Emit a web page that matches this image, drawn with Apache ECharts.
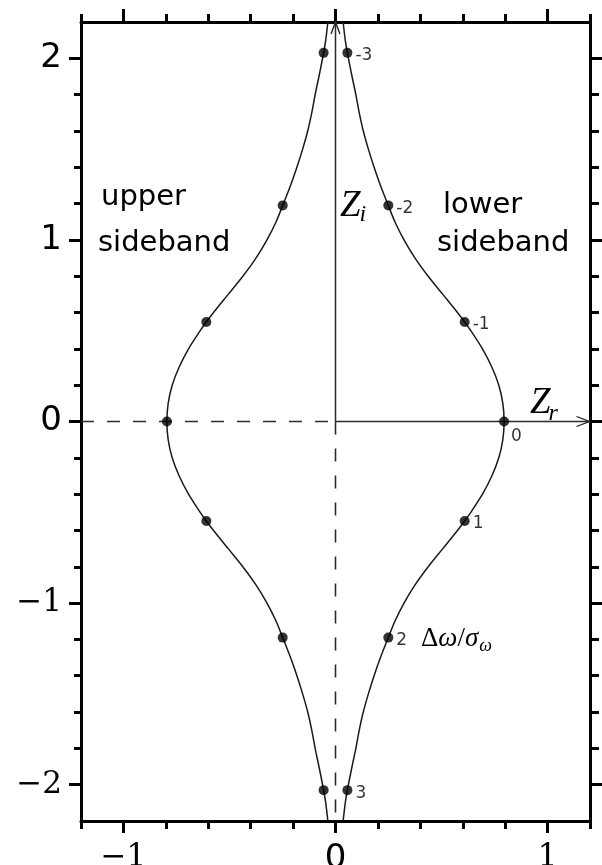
<!DOCTYPE html>
<html>
<head>
<meta charset="utf-8">
<script src="https://cdn.jsdelivr.net/npm/echarts@6/dist/echarts.min.js"></script>
<style>
  html, body { margin: 0; padding: 0; background: #fff; }
  #chart { width: 602px; height: 865px; }
</style>
</head>
<body>
<div id="chart"></div>
<script>
// Normalised detuning Δω/σω of the marked points
const detuning = [-3, -2, -1, 0, 1, 2, 3];

// Marked points, lower sideband (Zr, Zi)
const lowerDotZr = [0.056, 0.249, 0.609, 0.795, 0.609, 0.249, 0.056];
const lowerDotZi = [2.030, 1.190, 0.548, 0.000, -0.548, -1.190, -2.030];

// Marked points, upper sideband (Zr, Zi)
const upperDotZr = [-0.056, -0.249, -0.609, -0.795, -0.609, -0.249, -0.056];
const upperDotZi = [2.030, 1.190, 0.548, 0.000, -0.548, -1.190, -2.030];

// Impedance curve, lower sideband (top to bottom)
const lowerCurveZr = [0.036, 0.046, 0.056, 0.078, 0.096, 0.112, 0.131, 0.155, 0.182, 0.212,
                      0.249, 0.280, 0.323, 0.375, 0.437, 0.506, 0.575, 0.609, 0.638, 0.693,
                      0.737, 0.770, 0.789, 0.795, 0.789, 0.770, 0.737, 0.693, 0.638, 0.609,
                      0.575, 0.506, 0.437, 0.375, 0.323, 0.280, 0.249, 0.212, 0.182, 0.155,
                      0.131, 0.112, 0.096, 0.078, 0.056, 0.046, 0.036];
const lowerCurveZi = [2.20, 2.10, 2.03, 1.90, 1.80, 1.70, 1.60, 1.50, 1.40, 1.30,
                      1.19, 1.10, 1.00, 0.90, 0.80, 0.70, 0.60, 0.548, 0.50, 0.40,
                      0.30, 0.20, 0.10, 0.00, -0.10, -0.20, -0.30, -0.40, -0.50, -0.548,
                      -0.60, -0.70, -0.80, -0.90, -1.00, -1.10, -1.19, -1.30, -1.40, -1.50,
                      -1.60, -1.70, -1.80, -1.90, -2.03, -2.10, -2.20];

// Impedance curve, upper sideband (top to bottom)
const upperCurveZr = [-0.036, -0.046, -0.056, -0.078, -0.096, -0.112, -0.131, -0.155, -0.182, -0.212,
                      -0.249, -0.280, -0.323, -0.375, -0.437, -0.506, -0.575, -0.609, -0.638, -0.693,
                      -0.737, -0.770, -0.789, -0.795, -0.789, -0.770, -0.737, -0.693, -0.638, -0.609,
                      -0.575, -0.506, -0.437, -0.375, -0.323, -0.280, -0.249, -0.212, -0.182, -0.155,
                      -0.131, -0.112, -0.096, -0.078, -0.056, -0.046, -0.036];
const upperCurveZi = [2.20, 2.10, 2.03, 1.90, 1.80, 1.70, 1.60, 1.50, 1.40, 1.30,
                      1.19, 1.10, 1.00, 0.90, 0.80, 0.70, 0.60, 0.548, 0.50, 0.40,
                      0.30, 0.20, 0.10, 0.00, -0.10, -0.20, -0.30, -0.40, -0.50, -0.548,
                      -0.60, -0.70, -0.80, -0.90, -1.00, -1.10, -1.19, -1.30, -1.40, -1.50,
                      -1.60, -1.70, -1.80, -1.90, -2.03, -2.10, -2.20];

// Tick positions
const xMajorTicks = [-1, 0, 1];
const xMinorTicks = [-1.2, -0.8, -0.6, -0.4, -0.2, 0.2, 0.4, 0.6, 0.8, 1.2];
const yMajorTicks = [-2, -1, 0, 1, 2];
const yMinorTicks = [-1.8, -1.6, -1.4, -1.2, -0.8, -0.6, -0.4, -0.2,
                     0.2, 0.4, 0.6, 0.8, 1.2, 1.4, 1.6, 1.8];

const X_MIN = -1.2, X_MAX = 1.2, Y_MIN = -2.2, Y_MAX = 2.2;

const zip = (a, b) => a.map((v, i) => [v, b[i]]);
const minus = v => (v < 0 ? '\u2212' + Math.abs(v) : String(v));

const labelRich = {
  s: { fontFamily: 'DejaVu Sans', fontSize: 34, color: '#000' },
  m: { fontFamily: 'DejaVu Serif', fontSize: 31, color: '#000' }
};
const xLabel = v => (v === 0 ? '{s|0}' : '{m|' + minus(v) + '}');
const yLabel = v => (v >= 0 ? '{s|' + v + '}' : '{m|' + minus(v) + '}');

const tickStyle = { color: '#000', width: 3 };

function axis(dim, position, ticks, len, showLine, labelFn) {
  const a = {
    type: 'value',
    position: position,
    min: dim === 'x' ? X_MIN : Y_MIN,
    max: dim === 'x' ? X_MAX : Y_MAX,
    axisLine: { show: showLine, onZero: false, lineStyle: { color: '#000', width: 3 } },
    axisTick: { show: true, inside: false, customValues: ticks, length: len, lineStyle: tickStyle },
    axisLabel: { show: false },
    splitLine: { show: false }
  };
  if (labelFn) {
    a.axisLabel = {
      show: true, customValues: ticks, formatter: labelFn, rich: labelRich,
      margin: dim === 'x' ? 21 : 19
    };
  }
  return a;
}

// width of a text run, used to place subscripts right after their base
const measureCtx = document.createElement('canvas').getContext('2d');
function textWidth(font, s) {
  measureCtx.font = font;
  return measureCtx.measureText(s).width;
}

const chart = echarts.init(document.getElementById('chart'), null, { renderer: 'canvas' });

const lineColor = '#2a2a2a';
const openArrowRight = 'path://M0,0L10,5L0,10';
const openArrowUp = 'path://M0,10L5,0L10,10';
const arrowStyle = { color: 'rgba(0,0,0,0)', borderColor: lineColor, borderWidth: 1.5 };

const lowerDots = lowerDotZr.map((x, i) => {
  const item = { value: [x, lowerDotZi[i]], name: String(detuning[i]) };
  if (detuning[i] === 0) item.label = { offset: [-1, 15] };
  return item;
});

// Δω/σ_ω annotation pieces
const fUp = '27px "Liberation Serif"';
const fIt = 'italic 27px "Liberation Serif"';
const dwX = 421;
const dwWidth = textWidth(fUp, 'Δ') + textWidth(fIt, 'ω') + textWidth(fUp, '/') + textWidth(fIt, 'σ');

const zFont = 'italic 37px "Liberation Serif"';
const zW = textWidth(zFont, 'Z');

chart.setOption({
  animation: false,
  backgroundColor: '#fff',
  grid: { left: 81, right: 12, top: 22, bottom: 44, containLabel: false, outerBoundsMode: 'none' },
  xAxis: [
    axis('x', 'bottom', xMajorTicks, 12, true, xLabel),
    axis('x', 'bottom', xMinorTicks, 8, false),
    axis('x', 'top', xMajorTicks, 13, true),
    axis('x', 'top', xMinorTicks, 8, false)
  ],
  yAxis: [
    axis('y', 'left', yMajorTicks, 12, true, yLabel),
    axis('y', 'left', yMinorTicks, 7, false),
    axis('y', 'right', yMajorTicks, 12, true),
    axis('y', 'right', yMinorTicks, 9, false)
  ],
  series: [
    // Zr axis: dashed on the negative side, arrow on the positive side
    {
      type: 'line', data: [[X_MIN, 0], [0, 0]], symbol: 'none', silent: true,
      lineStyle: { color: lineColor, width: 1.5, type: [13, 13] }, z: 1
    },
    {
      type: 'line', silent: true, z: 1,
      data: [{ value: [0, 0], symbol: 'none' },
             { value: [X_MAX, 0], symbol: openArrowRight, symbolSize: [13, 10], symbolOffset: [-7, 0] }],
      showSymbol: true, itemStyle: arrowStyle,
      lineStyle: { color: lineColor, width: 1.5 }
    },
    // Zi axis: dashed below, arrow at the top
    {
      type: 'line', data: [[0, 0], [0, Y_MIN]], symbol: 'none', silent: true,
      lineStyle: { color: lineColor, width: 1.6, type: [13, 14] }, z: 1
    },
    {
      type: 'line', silent: true, z: 1,
      data: [{ value: [0, 0], symbol: 'none' },
             { value: [0, Y_MAX], symbol: openArrowUp, symbolSize: [9, 12], symbolOffset: [0, 6] }],
      showSymbol: true, itemStyle: arrowStyle,
      lineStyle: { color: lineColor, width: 1.5 }
    },
    // Curves
    {
      type: 'line', name: 'lower sideband', data: zip(lowerCurveZr, lowerCurveZi),
      showSymbol: false, smooth: 0.3, silent: true,
      lineStyle: { color: '#1a1a1a', width: 1.5 }, z: 2
    },
    {
      type: 'line', name: 'upper sideband', data: zip(upperCurveZr, upperCurveZi),
      showSymbol: false, smooth: 0.3, silent: true,
      lineStyle: { color: '#1a1a1a', width: 1.5 }, z: 2
    },
    // Marked detuning points
    {
      type: 'scatter', data: lowerDots, symbolSize: 10, itemStyle: { color: '#000' }, z: 3,
      label: {
        show: true, position: 'right', distance: 3, offset: [0, 3],
        formatter: p => p.name,
        fontFamily: 'DejaVu Sans', fontSize: 17, color: '#000'
      }
    },
    {
      type: 'scatter', data: zip(upperDotZr, upperDotZi), symbolSize: 10,
      itemStyle: { color: '#000' }, z: 3
    }
  ],
  graphic: [
    { type: 'text', x: 101, y: 197, style: { text: 'upper', font: '29px "DejaVu Sans"', fill: '#000', align: 'left', verticalAlign: 'middle' } },
    { type: 'text', x: 98, y: 243, style: { text: 'sideband', font: '29px "DejaVu Sans"', fill: '#000', align: 'left', verticalAlign: 'middle' } },
    { type: 'text', x: 443, y: 205, style: { text: 'lower', font: '29px "DejaVu Sans"', fill: '#000', align: 'left', verticalAlign: 'middle' } },
    { type: 'text', x: 437, y: 243, style: { text: 'sideband', font: '29px "DejaVu Sans"', fill: '#000', align: 'left', verticalAlign: 'middle' } },
    // Z_i
    { type: 'text', x: 340, y: 206, style: { text: 'Z', font: zFont, fill: '#000', align: 'left', verticalAlign: 'middle' } },
    { type: 'text', x: 340 + zW - 1, y: 215, style: { text: 'i', font: 'italic 24px "Liberation Serif"', fill: '#000', align: 'left', verticalAlign: 'middle' } },
    // Z_r
    { type: 'text', x: 530, y: 403, style: { text: 'Z', font: zFont, fill: '#000', align: 'left', verticalAlign: 'middle' } },
    { type: 'text', x: 530 + zW - 2, y: 414, style: { text: 'r', font: 'italic 24px "Liberation Serif"', fill: '#000', align: 'left', verticalAlign: 'middle' } },
    // Δω/σ_ω
    {
      type: 'text', x: dwX, y: 639,
      style: {
        text: '{u|Δ}{i|ω}{u|/}{i|σ}', align: 'left', verticalAlign: 'middle', fill: '#000',
        rich: {
          u: { fontFamily: 'Liberation Serif', fontSize: 27, fill: '#000' },
          i: { fontFamily: 'Liberation Serif', fontSize: 27, fontStyle: 'italic', fill: '#000' }
        }
      }
    },
    { type: 'text', x: dwX + dwWidth + 1, y: 646, style: { text: 'ω', font: 'italic 18px "Liberation Serif"', fill: '#000', align: 'left', verticalAlign: 'middle' } }
  ]
});
</script>
</body>
</html>
